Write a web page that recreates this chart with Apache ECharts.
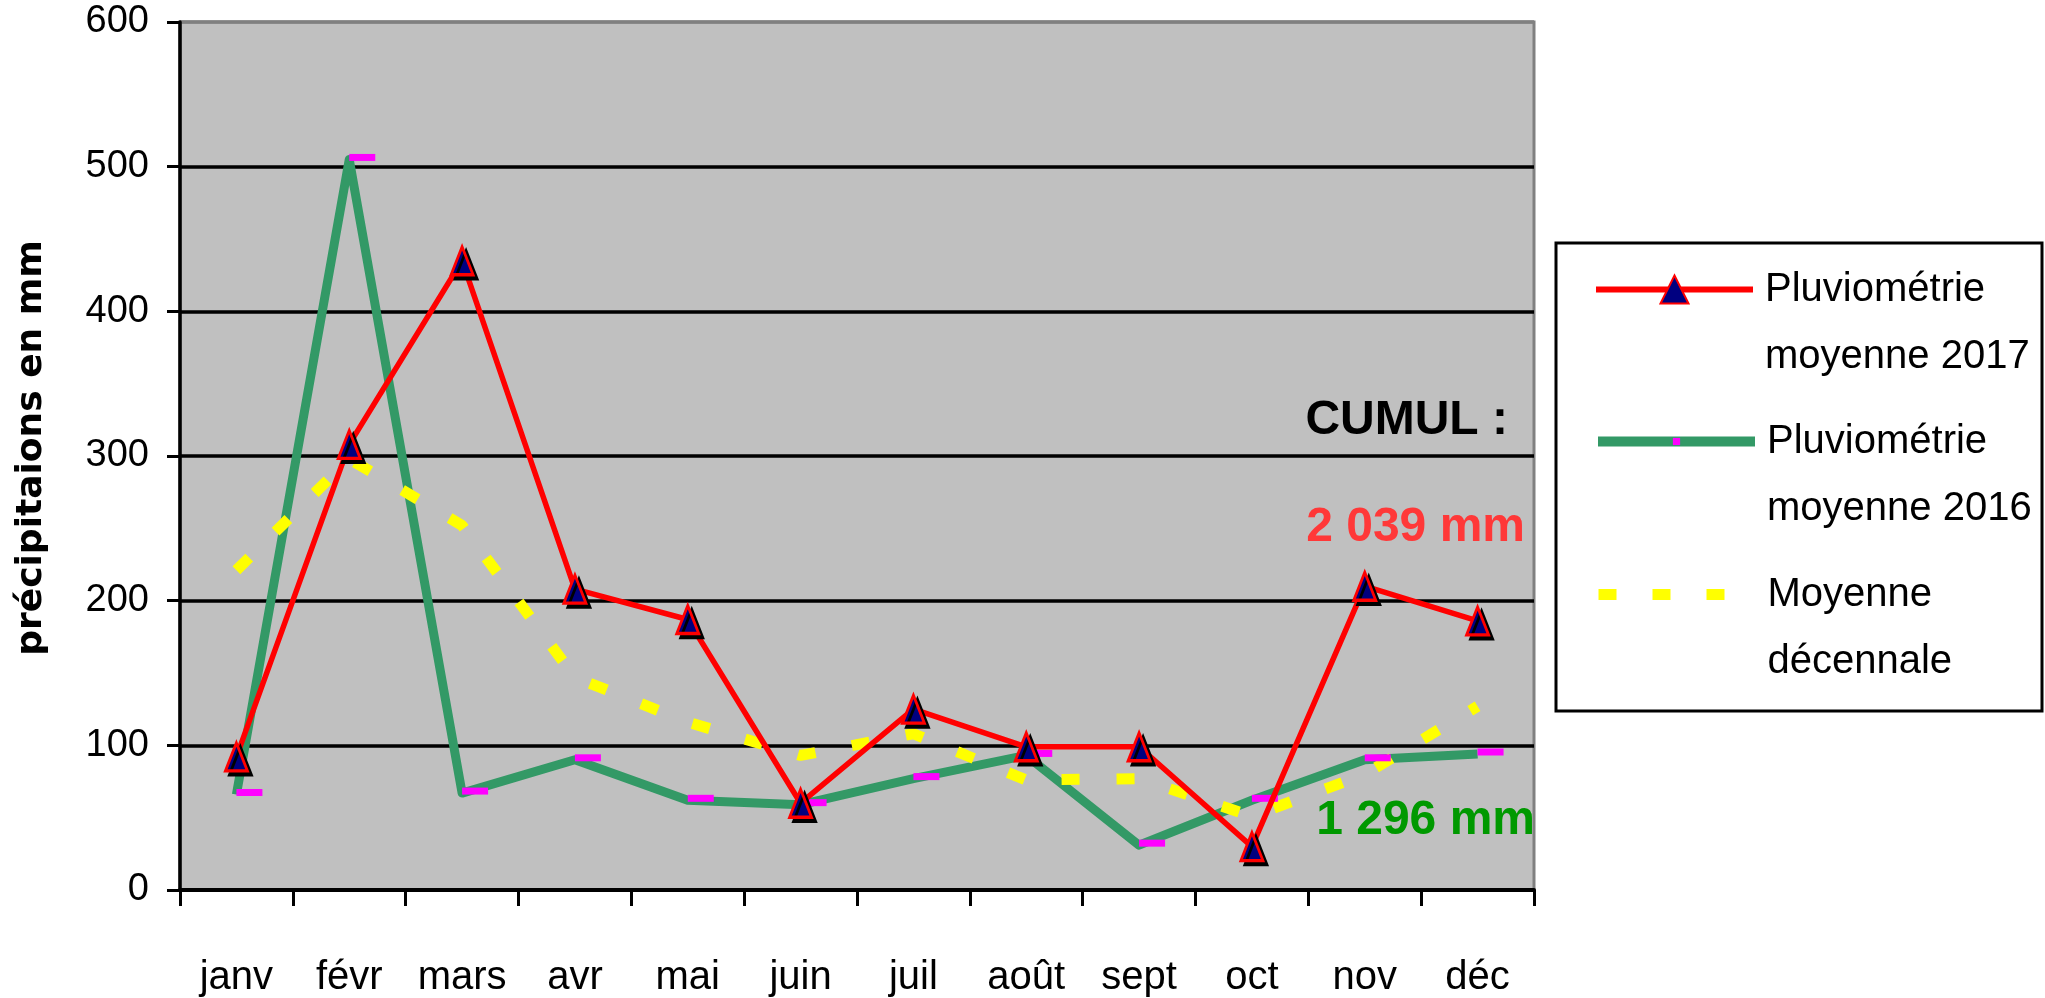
<!DOCTYPE html>
<html lang="fr">

<head>
    <meta charset="UTF-8">
    <title>Pluviométrie</title>
    <script src="https://cdn.jsdelivr.net/npm/echarts@6/dist/echarts.min.js"></script>
    <style>
        html, body {
            margin: 0;
            padding: 0;
            background: #fff;
        }

        #chart {
            width: 2045px;
            height: 998px;
        }
    </style>
</head>

<body>
    <div id="chart"></div>

    <script>
        // mois (axe des catégories)
        const months = ["janv", "févr", "mars", "avr", "mai", "juin", "juil", "août", "sept", "oct", "nov", "déc"];

        // précipitations en mm
        const pluie2017 = [92, 308, 435, 208, 187, 60, 125, 99, 99, 30, 210, 186];
        const pluie2016 = [66, 505, 67, 90, 62, 59, 77, 93, 31, 62, 90, 94];
        const moyenneDecennale = [221, 298, 252, 147, 116, 93, 108, 76, 77, 51, 80, 127];

        const seriesNames = ["Pluviométrie\nmoyenne 2017", "Pluviométrie\nmoyenne 2016", "Moyenne\ndécennale"];

        // axe des valeurs
        const yMin = 0;
        const yMax = 600;
        const yStep = 100;

        // textes de cumul
        const cumulTitle = "CUMUL :";
        const cumul2017 = "2 039 mm";
        const cumul2016 = "1 296 mm";

        const chart = echarts.init(document.getElementById("chart"));

        const legendText = {
            fontFamily: "Liberation Sans",
            fontSize: 40,
            lineHeight: 67,
            color: "#000",
            padding: [0, 0, 0, 7]
        };

        // une légende par série : le symbole reste aligné sur la 1re ligne
        function legendAt(name, top, itemHeight, extra) {
            return Object.assign({
                data: [name],
                left: 1593,
                top: top,
                orient: "vertical",
                padding: 0,
                itemWidth: 157,
                itemHeight: itemHeight,
                selectedMode: false,
                formatter: n => "\n" + n,
                textStyle: legendText
            }, extra || {});
        }

        const option = {
            animation: false,
            backgroundColor: "#fff",
            grid: {
                left: 180,
                right: 511,
                top: 22,
                bottom: 107,
                show: true,
                backgroundColor: "#c0c0c0",
                borderColor: "#808080",
                borderWidth: 3
            },
            xAxis: {
                type: "category",
                data: months,
                boundaryGap: true,
                axisLine: { lineStyle: { color: "#000", width: 4 } },
                axisTick: { show: true, length: 16, lineStyle: { color: "#000", width: 3 } },
                axisLabel: {
                    interval: 0,
                    margin: 68,
                    color: "#000",
                    fontFamily: "Liberation Sans",
                    fontSize: 40
                },
                splitLine: { show: false }
            },
            yAxis: {
                type: "value",
                min: yMin,
                max: yMax,
                interval: yStep,
                name: "précipitaions en mm",
                nameLocation: "middle",
                nameRotate: 90,
                nameGap: 130,
                nameTextStyle: {
                    fontFamily: "DejaVu Sans",
                    fontWeight: "bold",
                    fontSize: 36,
                    color: "#000",
                    padding: [0, 0, 0, 16]
                },
                axisLine: { show: true, lineStyle: { color: "#000", width: 3.5 } },
                axisTick: { show: true, length: 13, lineStyle: { color: "#000", width: 3 } },
                axisLabel: {
                    margin: 31,
                    color: "#000",
                    fontFamily: "Liberation Sans",
                    fontSize: 38
                },
                splitLine: {
                    show: true,
                    lineStyle: {
                        color: ["#000", "#000", "#000", "#000", "#000", "#000", "#808080"],
                        width: 3.5
                    }
                }
            },
            legend: [
                legendAt(seriesNames[0], 189, 35, {
                    lineStyle: { width: 6 },
                    itemStyle: { shadowColor: "rgba(0,0,0,0)", shadowBlur: 0, shadowOffsetX: 0, shadowOffsetY: 0 }
                }),
                legendAt(seriesNames[1], 341, 9, {
                    lineStyle: { width: 10 }
                }),
                legendAt(seriesNames[2], 494, 11, {
                    lineStyle: { width: 11, type: [18, 36] },
                    itemStyle: { color: "rgba(0,0,0,0)", borderWidth: 0, opacity: 0 }
                })
            ],
            graphic: [
                {
                    type: "rect",
                    z: 0,
                    shape: { x: 1556, y: 243, width: 486, height: 468 },
                    style: { fill: "#fff", stroke: "#000", lineWidth: 3 }
                },
                {
                    type: "text",
                    z: 10,
                    x: 1508,
                    y: 421,
                    style: {
                        text: cumulTitle, align: "right", verticalAlign: "middle",
                        fontFamily: "Liberation Sans", fontWeight: "bold", fontSize: 48, fill: "#000"
                    }
                },
                {
                    type: "text",
                    z: 10,
                    x: 1525,
                    y: 528,
                    style: {
                        text: cumul2017, align: "right", verticalAlign: "middle",
                        fontFamily: "Liberation Sans", fontWeight: "bold", fontSize: 48, fill: "#ff3838"
                    }
                },
                {
                    type: "text",
                    z: 10,
                    x: 1535,
                    y: 821,
                    style: {
                        text: cumul2016, align: "right", verticalAlign: "middle",
                        fontFamily: "Liberation Sans", fontWeight: "bold", fontSize: 48, fill: "#009900"
                    }
                }
            ],
            series: [
                {
                    name: seriesNames[0],
                    type: "line",
                    z: 3,
                    data: pluie2017,
                    symbol: "triangle",
                    symbolSize: [22, 28],
                    lineStyle: { color: "#ff0000", width: 5.5, join: "round" },
                    itemStyle: {
                        color: "#000080",
                        borderColor: "#ff0000",
                        borderWidth: 3,
                        shadowColor: "#000",
                        shadowBlur: 0,
                        shadowOffsetX: 4,
                        shadowOffsetY: 4
                    }
                },
                {
                    name: seriesNames[1],
                    type: "line",
                    z: 2,
                    data: pluie2016,
                    symbol: "rect",
                    symbolSize: [26, 7],
                    symbolOffset: [13, -2],
                    lineStyle: { color: "#339966", width: 9, join: "round" },
                    itemStyle: { color: "#ff00ff" }
                },
                {
                    name: seriesNames[2],
                    type: "line",
                    z: 2,
                    data: moyenneDecennale,
                    symbol: "none",
                    lineStyle: { color: "#ffff00", width: 11, type: [18, 37], cap: "butt" },
                    itemStyle: { color: "#ffff00" }
                }
            ]
        };

        chart.setOption(option);
    </script>
</body>

</html>
